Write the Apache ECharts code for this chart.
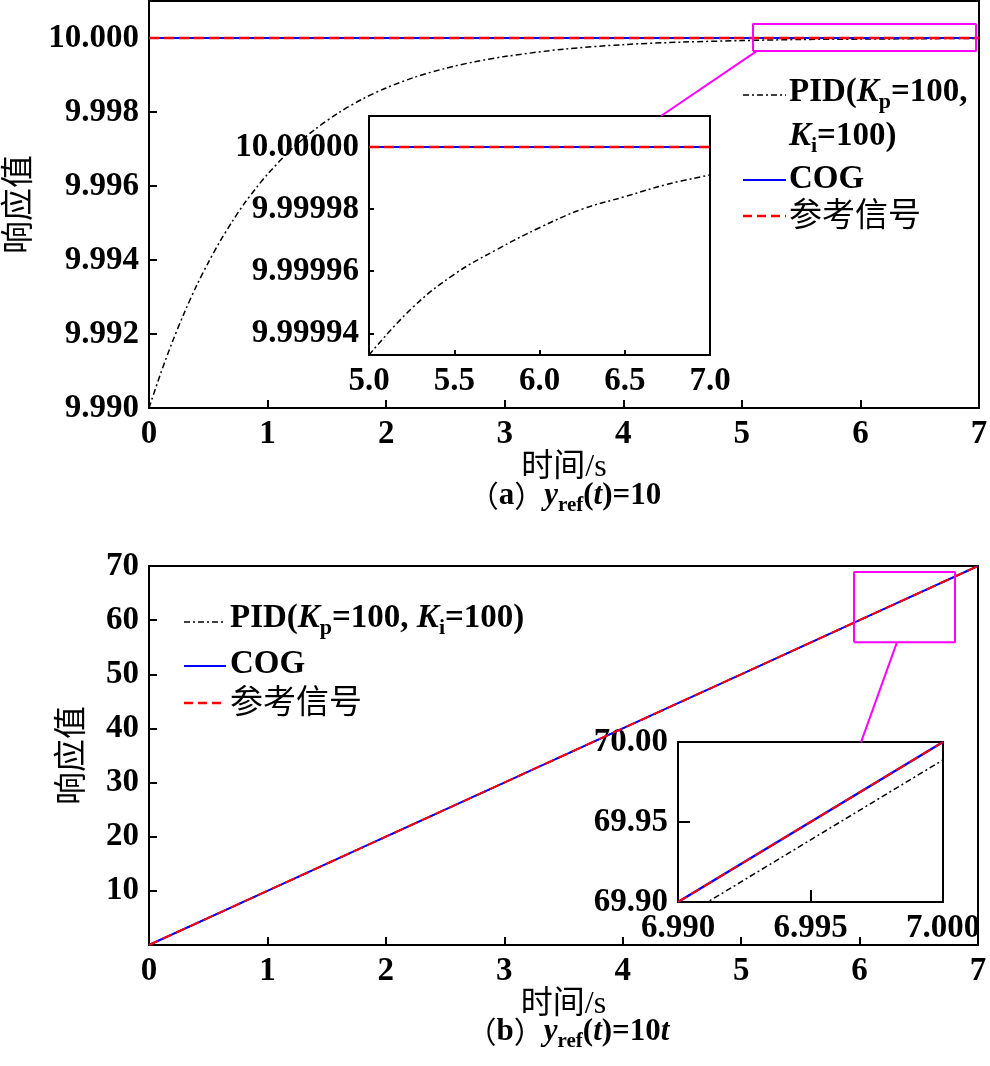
<!DOCTYPE html>
<html><head><meta charset="utf-8">
<script src="https://cdn.jsdelivr.net/npm/echarts@6/dist/echarts.min.js"></script>
<style>html,body{margin:0;padding:0;background:#fff}#c{width:990px;height:1066px}</style>
</head><body><div id="c"></div>
<script>
// ---------- Panel (a): y_ref(t) = 10 ----------
const tA   = [0,0.1,0.2,0.3,0.4,0.5,0.6,0.7,0.8,0.9,1.0,1.2,1.4,1.6,1.8,2.0,2.25,2.5,2.75,3.0,3.5,4.0,4.5,5.0,5.5,6.0,6.5,7.0];
const pidA = [9.99000,9.99095,9.99181,9.99259,9.99330,9.99393,9.99451,9.99503,9.99551,9.99593,9.99632,9.99699,9.99753,9.99798,9.99835,9.99865,9.99895,9.99918,9.99936,9.99950,9.99970,9.99982,9.99989,9.99993,9.99996,9.99997,9.99998,9.99999];
const tAflat = [0, 7];
const cogA = [10, 10];
const refA = [10, 10];
// inset (a)
const tAi   = [5.0,5.25,5.5,5.75,6.0,6.25,6.5,6.75,7.0];
const pidAi = [9.999933,9.999948,9.999959,9.999967,9.999974,9.999980,9.999984,9.999988,9.999991];
const tAiFlat = [5.0, 7.0];
const cogAi = [10, 10];
const refAi = [10, 10];
// zoom box + connector (a), in main-axis data units
const boxA_t = [5.094, 6.975];
const boxA_y = [9.99965, 10.000378];
const linkA_t = [5.128, 4.318];
const linkA_y = [9.99965, 9.997892];

// ---------- Panel (b): y_ref(t) = 10t ----------
const tB   = [0,1,2,3,4,5,6,7];
const refB = [0,10,20,30,40,50,60,70];
const cogB = [0,10,20,30,40,50,60,70];
const pidB = [0,9.989,19.989,29.989,39.989,49.989,59.989,69.989];
// inset (b)
const tBi   = [6.990, 7.000];
const refBi = [69.90, 70.00];
const cogBi = [69.90, 70.00];
const pidBi = [69.8888, 69.9888];
// zoom box + connector (b)
const boxB_t = [5.953, 6.806];
const boxB_y = [55.93, 68.89];
const linkB_t = [6.316, 6.012];
const linkB_y = [55.93, 37.41];

// ---------- tick labels ----------
const xTicksMain = [0,1,2,3,4,5,6,7];
const yTicksA  = [9.990,9.992,9.994,9.996,9.998,10.000];
const xTicksAi = [5.0,5.5,6.0,6.5,7.0];
const yTicksAi = [9.99994,9.99996,9.99998,10.00000];
const yTicksB  = [10,20,30,40,50,60,70];
const xTicksBi = [6.990,6.995,7.000];
const yTicksBi = [69.90,69.95,70.00];

const SERIF = "'Liberation Serif','Times New Roman',serif";
const MIX = "'Liberation Serif','Noto Sans CJK SC',serif";
const CJK = "'Noto Sans CJK SC','Liberation Serif',sans-serif";
const FS = 33;
const FW = 'bold';

const zip = (xs, ys) => xs.map((x, i) => [x, ys[i]]);
const boxPath = (ts, ys) => [[ts[0],ys[0]],[ts[1],ys[0]],[ts[1],ys[1]],[ts[0],ys[1]],[ts[0],ys[0]]];

function xAx(gi, min, max, ticks, dec, tickLen, name, nameGap) {
  const o = {
    type: 'value', gridIndex: gi, min: min, max: max,
    axisLine: { show: false },
    splitLine: { show: false },
    axisTick: { show: true, inside: true, length: tickLen, customValues: ticks, lineStyle: { color: '#000', width: 2 } },
    axisLabel: { customValues: ticks, margin: 10, color: '#000', fontFamily: SERIF, fontSize: FS, fontWeight: FW,
      formatter: v => Number(v).toFixed(dec) }
  };
  if (name) {
    o.name = name; o.nameLocation = 'middle'; o.nameGap = nameGap;
    o.nameTextStyle = { fontFamily: MIX, fontSize: 32, color: '#000' };
  }
  return o;
}
function yAx(gi, min, max, ticks, dec, tickLen, name, nameGap) {
  const o = {
    type: 'value', gridIndex: gi, min: min, max: max,
    axisLine: { show: false },
    splitLine: { show: false },
    axisTick: { show: true, inside: true, length: tickLen, customValues: ticks, lineStyle: { color: '#000', width: 2 } },
    axisLabel: { customValues: ticks, margin: 10, color: '#000', fontFamily: SERIF, fontSize: FS, fontWeight: FW,
      formatter: v => Number(v).toFixed(dec) }
  };
  if (name) {
    o.name = name; o.nameLocation = 'middle'; o.nameGap = nameGap; o.nameRotate = 90;
    o.nameTextStyle = { fontFamily: CJK, fontSize: 33, color: '#000' };
  }
  return o;
}
function line(xi, data, color, width, type, z, smooth) {
  return { type: 'line', xAxisIndex: xi, yAxisIndex: xi, data: data, showSymbol: false, symbol: 'none',
    silent: true, z: z, smooth: smooth || false,
    lineStyle: { color: color, width: width, type: type } };
}
const DASHDOT = [6,3,2,3];
const DASH = [10,5];

const grids = [
  { left: 149, top: 1, width: 830, height: 407 },
  { left: 369, top: 116, width: 341, height: 239 },
  { left: 149, top: 566, width: 829, height: 379 },
  { left: 678, top: 742, width: 265, height: 160 }
].map(g => Object.assign({ show: true, borderColor: '#000', borderWidth: 2, backgroundColor: 'rgba(0,0,0,0)',
  containLabel: false, outerBoundsMode: 'none' }, g));

const richBase = {
  n: { fontFamily: SERIF, fontSize: 33, fontWeight: FW, color: '#000' },
  i: { fontFamily: SERIF, fontSize: 33, fontWeight: FW, fontStyle: 'italic', color: '#000' },
  s: { fontFamily: SERIF, fontSize: 22, fontWeight: FW, color: '#000', padding: [20, 0, 0, 0] },
  c: { fontFamily: CJK, fontSize: 33, color: '#000' },
  cn: { fontFamily: SERIF, fontSize: 31, fontWeight: FW, color: '#000' },
  ci: { fontFamily: SERIF, fontSize: 31, fontWeight: FW, fontStyle: 'italic', color: '#000' },
  cs: { fontFamily: SERIF, fontSize: 21, fontWeight: FW, color: '#000', padding: [20, 0, 0, 0] },
  cc: { fontFamily: CJK, fontSize: 30, color: '#000' }
};
function txt(x, y, text, align) {
  return { type: 'text', x: x, y: y, silent: true, z: 100,
    style: { text: text, rich: richBase, align: align || 'left', verticalAlign: 'middle', textAlign: align || 'left', textVerticalAlign: 'middle', fill: '#000' } };
}
function seg(x1, x2, y, color, width, dash) {
  return { type: 'line', silent: true, z: 100, shape: { x1: x1, y1: y, x2: x2, y2: y },
    style: { stroke: color, lineWidth: width, lineDash: dash || null } };
}

const option = {
  animation: false,
  backgroundColor: '#fff',
  grid: grids,
  xAxis: [
    xAx(0, 0, 7, xTicksMain, 0, 8, '时间/s', 38),
    xAx(1, 5, 7, xTicksAi, 1, 5),
    xAx(2, 0, 7, xTicksMain, 0, 8, '时间/s', 29),
    xAx(3, 6.99, 7.0, xTicksBi, 3, 12)
  ],
  yAxis: [
    yAx(0, 9.990, 10.001, yTicksA, 3, 8, '响应值', 116),
    yAx(1, 9.999933, 10.00001, yTicksAi, 5, 5),
    yAx(2, 0, 70, yTicksB, 0, 8, '响应值', 63),
    yAx(3, 69.90, 70.00, yTicksBi, 2, 12)
  ],
  series: [
    line(0, zip(tA, pidA), '#000', 1.5, DASHDOT, 2, 0.3),
    line(0, zip(tAflat, cogA), '#0000ff', 2, 'solid', 3),
    line(0, zip(tAflat, refA), '#ff0000', 2.5, DASH, 4),
    line(0, boxPath(boxA_t, boxA_y), '#ff00ff', 2, 'solid', 6),
    line(0, zip(linkA_t, linkA_y), '#ff00ff', 2, 'solid', 6),

    line(1, zip(tAi, pidAi), '#000', 1.5, DASHDOT, 2, 0.4),
    line(1, zip(tAiFlat, cogAi), '#0000ff', 2, 'solid', 3),
    line(1, zip(tAiFlat, refAi), '#ff0000', 2.5, DASH, 4),

    line(2, zip(tB, pidB), '#000', 1.5, DASHDOT, 2),
    line(2, zip(tB, cogB), '#0000ff', 2, 'solid', 3),
    line(2, zip(tB, refB), '#ff0000', 2, DASH, 4),
    line(2, boxPath(boxB_t, boxB_y), '#ff00ff', 2, 'solid', 6),
    line(2, zip(linkB_t, linkB_y), '#ff00ff', 2, 'solid', 6),

    line(3, zip(tBi, pidBi), '#000', 1.5, DASHDOT, 2),
    line(3, zip(tBi, cogBi), '#0000ff', 2.5, 'solid', 3),
    line(3, zip(tBi, refBi), '#ff0000', 2, DASH, 4)
  ],
  graphic: [
    // legend (a)
    seg(743, 786, 95, '#000', 1.5, DASHDOT),
    txt(789, 92, '{n|PID(}{i|K}{s|p}{n|=100,}'),
    txt(789, 136, '{i|K}{s|i}{n|=100)}'),
    seg(743, 786, 180, '#0000ff', 2),
    txt(789, 179, '{n|COG}'),
    seg(743, 786, 216, '#ff0000', 2.5, [9,5]),
    txt(789, 213, '{c|参考信号}'),
    // legend (b)
    seg(184, 226, 622, '#000', 1.5, DASHDOT),
    txt(230, 618, '{n|PID(}{i|K}{s|p}{n|=100, }{i|K}{s|i}{n|=100)}'),
    seg(184, 226, 666, '#0000ff', 2),
    txt(230, 664, '{n|COG}'),
    seg(184, 226, 703, '#ff0000', 2.5, [9,5]),
    txt(230, 700, '{c|参考信号}'),
    // captions
    txt(565, 496, '{cc|（}{cn|a}{cc|）}{ci|y}{cs|ref}{cn|(}{ci|t}{cn|)=10}', 'center'),
    txt(568, 1032, '{cc|（}{cn|b}{cc|）}{ci|y}{cs|ref}{cn|(}{ci|t}{cn|)=10}{ci|t}', 'center')
  ]
};
const chart = echarts.init(document.getElementById('c'), null, { renderer: 'canvas' });
chart.setOption(option);
</script>
</body></html>
